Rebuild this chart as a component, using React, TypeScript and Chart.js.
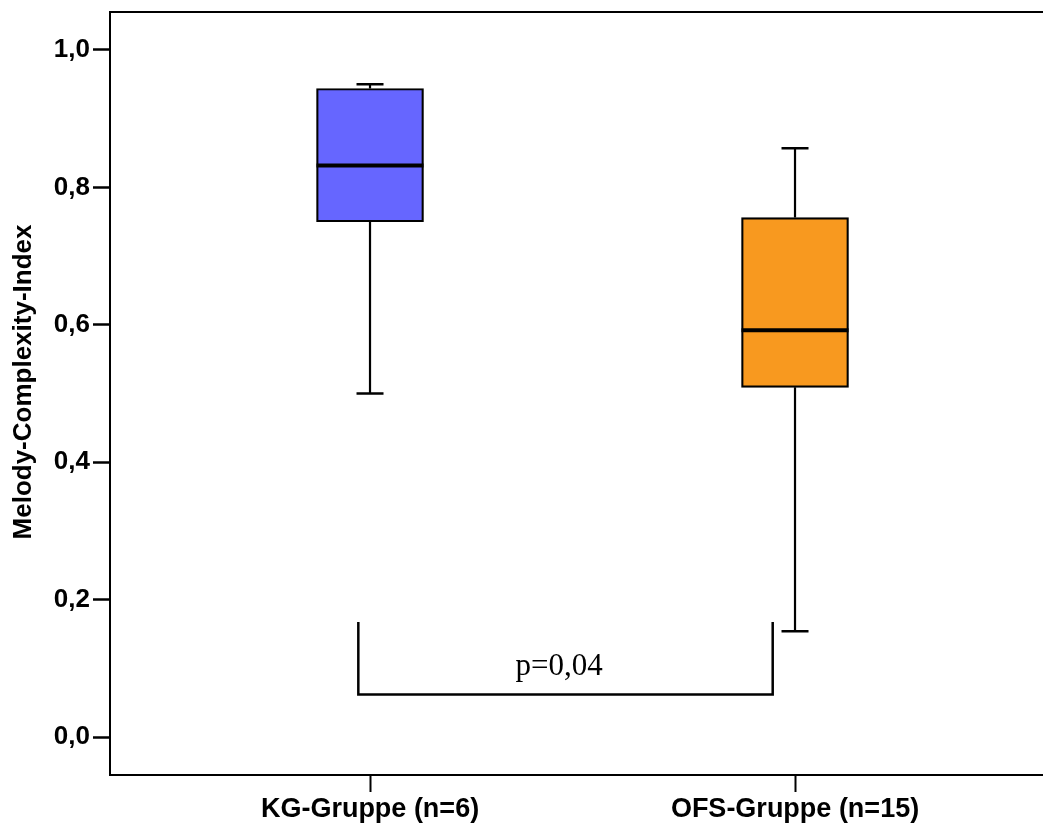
import React, { useEffect, useRef } from "react";
import { Chart, registerables } from "chart.js";

Chart.register(...registerables);

const categories = ["KG-Gruppe (n=6)", "OFS-Gruppe (n=15)"];
const whiskerLow = [0.5, 0.154];
const q1 = [0.75, 0.509];
const median = [0.832, 0.592];
const q3 = [0.944, 0.756];
const whiskerHigh = [0.95, 0.857];
const boxColors = ["#6666FF", "#F8991F"];
const yTickValues = [0, 0.2, 0.4, 0.6, 0.8, 1.0];
const bracketX = [-0.0275, 0.9475];
const bracketTop = 0.1675;
const bracketBottom = 0.062;
const pLabel = "p=0,04";
const pLabelPos = { x: 0.4447, y: 0.0898 };
const yTitle = "Melody-Complexity-Index";

const boxPlugin = {
  id: "boxExtras",
  afterDatasetsDraw(chart: any) {
    const { ctx, scales, chartArea } = chart;
    const xs = scales.x;
    const ys = scales.y;
    ctx.save();
    ctx.strokeStyle = "#000";
    ctx.lineCap = "butt";
    categories.forEach((_, i) => {
      const cx = xs.getPixelForValue(i);
      const capHalf = 13.5;
      ctx.lineWidth = 2.2;
      ctx.beginPath();
      ctx.moveTo(cx, ys.getPixelForValue(q3[i]));
      ctx.lineTo(cx, ys.getPixelForValue(whiskerHigh[i]));
      ctx.moveTo(cx, ys.getPixelForValue(q1[i]));
      ctx.lineTo(cx, ys.getPixelForValue(whiskerLow[i]));
      ctx.stroke();
      ctx.lineWidth = 2.5;
      ctx.beginPath();
      const yh = ys.getPixelForValue(whiskerHigh[i]);
      const yl = ys.getPixelForValue(whiskerLow[i]);
      ctx.moveTo(cx - capHalf, yh);
      ctx.lineTo(cx + capHalf, yh);
      ctx.moveTo(cx - capHalf, yl);
      ctx.lineTo(cx + capHalf, yl);
      ctx.stroke();
      const meta = chart.getDatasetMeta(0);
      const bar = meta.data[i];
      const half = bar.width / 2;
      const ym = ys.getPixelForValue(median[i]);
      ctx.lineWidth = 4;
      ctx.beginPath();
      ctx.moveTo(cx - half, ym);
      ctx.lineTo(cx + half, ym);
      ctx.stroke();
    });
    ctx.lineWidth = 2.5;
    ctx.lineJoin = "miter";
    ctx.beginPath();
    ctx.moveTo(xs.getPixelForValue(bracketX[0]), ys.getPixelForValue(bracketTop));
    ctx.lineTo(xs.getPixelForValue(bracketX[0]), ys.getPixelForValue(bracketBottom));
    ctx.lineTo(xs.getPixelForValue(bracketX[1]), ys.getPixelForValue(bracketBottom));
    ctx.lineTo(xs.getPixelForValue(bracketX[1]), ys.getPixelForValue(bracketTop));
    ctx.stroke();
    ctx.fillStyle = "#000";
    ctx.font = '31px "Liberation Serif", "Times New Roman", serif';
    ctx.textAlign = "center";
    ctx.textBaseline = "alphabetic";
    ctx.fillText(pLabel, xs.getPixelForValue(pLabelPos.x), ys.getPixelForValue(pLabelPos.y));
    ctx.lineWidth = 2;
    ctx.beginPath();
    ctx.moveTo(chartArea.left, chartArea.top);
    ctx.lineTo(chartArea.right, chartArea.top);
    ctx.stroke();
    ctx.save();
    ctx.translate(24, 382);
    ctx.rotate(-Math.PI / 2);
    ctx.font = 'bold 26px "Liberation Sans", Arial, sans-serif';
    ctx.textAlign = "center";
    ctx.textBaseline = "middle";
    ctx.fillText(yTitle, 0, 0);
    ctx.restore();
    ctx.restore();
  },
};

export default function App() {
  const ref = useRef<HTMLCanvasElement | null>(null);
  useEffect(() => {
    if (!ref.current) return;
    const chart = new Chart(ref.current, {
      type: "bar",
      data: {
        datasets: [
          {
            data: categories.map((_, i) => ({ x: i, y: [q1[i], q3[i]] })) as any,
            backgroundColor: boxColors,
            borderColor: "#000",
            borderWidth: 2.2,
            borderSkipped: false,
            barThickness: 107,
            grouped: false,
          } as any,
        ],
      },
      options: {
        animation: false,
        responsive: false,
        maintainAspectRatio: false,
        layout: { padding: { top: 12, right: 0, left: 0, bottom: 0 } },
        plugins: { legend: { display: false }, tooltip: { enabled: false } },
        scales: {
          x: {
            type: "linear",
            offset: false,
            min: -0.6118,
            max: 1.5835,
            afterBuildTicks: (axis: any) => {
              axis.ticks = categories.map((_, i) => ({ value: i }));
            },
            afterFit: (axis: any) => {
              axis.height = 50;
              axis.paddingLeft = 0;
              axis.paddingRight = 0;
            },
            ticks: {
              color: "#000",
              font: { family: '"Liberation Sans", Arial, sans-serif', size: 27, weight: "bold" },
              padding: 1,
              maxRotation: 0,
              autoSkip: false,
              callback: (v: any) => categories[Math.round(Number(v))],
            },
            grid: {
              offset: false,
              drawOnChartArea: false,
              drawTicks: true,
              tickLength: 17,
              tickWidth: 2,
              tickColor: "#000",
            },
            border: { display: true, color: "#000", width: 2 },
          },
          y: {
            type: "linear",
            min: -0.0553,
            max: 1.0553,
            afterBuildTicks: (axis: any) => {
              axis.ticks = yTickValues.map((v) => ({ value: v }));
            },
            afterFit: (axis: any) => {
              axis.width = 110;
              axis.paddingTop = 0;
              axis.paddingBottom = 0;
            },
            ticks: {
              color: "#000",
              font: { family: '"Liberation Sans", Arial, sans-serif', size: 26, weight: "bold" },
              padding: 3,
              autoSkip: false,
              callback: (v: any) => Number(v).toFixed(1).replace(".", ","),
            },
            grid: {
              drawOnChartArea: false,
              drawTicks: true,
              tickLength: 17,
              tickWidth: 2.5,
              tickColor: "#000",
            },
            border: { display: true, color: "#000", width: 2 },
          },
        },
      },
      plugins: [boxPlugin],
    });
    return () => chart.destroy();
  }, []);
  return (
    <div style={{ position: "absolute", left: 0, top: 0, width: 1043, height: 825, background: "#fff" }}>
      <canvas ref={ref} width={1043} height={825} style={{ width: 1043, height: 825, display: "block" }} />
    </div>
  );
}
